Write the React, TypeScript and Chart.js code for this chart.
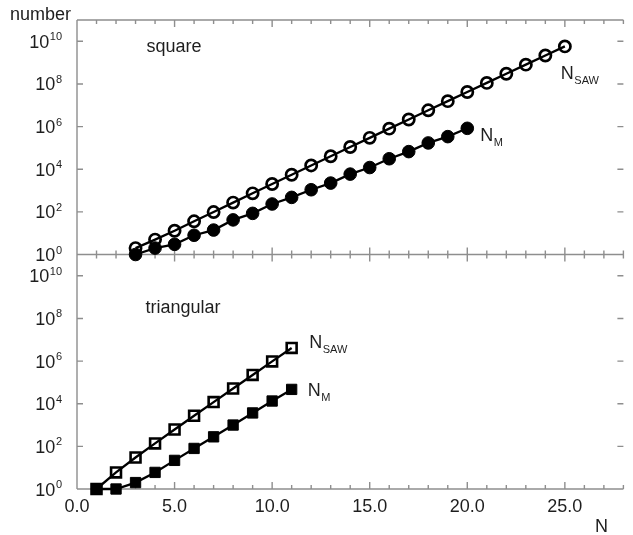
import React, { useEffect, useRef } from "react";
import { Chart, registerables } from "chart.js";

Chart.register(...registerables);

// ---------- data ----------
const xMajorTicks = [0, 5, 10, 15, 20, 25];
const xMin = 0;
const xMax = 28;
const yExponents = [0, 2, 4, 6, 8, 10];
const yMin = 1;
const yMax = 1e11;

// square lattice
const squareSawN = [3, 4, 5, 6, 7, 8, 9, 10, 11, 12, 13, 14, 15, 16, 17, 18, 19, 20, 21, 22, 23, 24, 25];
const squareSaw = [
  2, 5, 13, 36, 98, 272, 740, 2034, 5513, 15037, 40617, 110188, 296806, 802075, 2155667, 5808335,
  15582342, 41889578, 112212146, 301100754, 805570061, 2158326727, 5768299665,
];
const squareMN = [3, 4, 5, 6, 7, 8, 9, 10, 11, 12, 13, 14, 15, 16, 17, 18, 19, 20];
const squareM = [1, 2, 3, 8, 14, 42, 85, 234, 478, 1090, 2240, 5900, 12000, 31000, 67000, 171000, 338000, 830000];

// triangular lattice
const triSawN = [1, 2, 3, 4, 5, 6, 7, 8, 9, 10, 11];
const triSaw = [1, 6, 30, 138, 618, 2730, 11946, 51882, 224130, 964134, 4133166];
const triMN = [1, 2, 3, 4, 5, 6, 7, 8, 9, 10, 11];
const triM = [1, 1, 2, 6, 22, 80, 280, 1000, 3700, 13400, 47000];

const panelTitles = ["square", "triangular"];
const yAxisTitle = "number";
const xAxisTitle = "N";

// ---------- style ----------
const FONT = '"Liberation Sans", Arial, Helvetica, sans-serif';
const TEXT = "#1e1e1e";
const AXIS = "#8e8e8e";

const pts = (xs: number[], ys: number[]) => xs.map((x, i) => ({ x, y: ys[i] }));

function drawLabelWithSub(ctx: CanvasRenderingContext2D, main: string, sub: string, x: number, baseline: number) {
  ctx.font = `18px ${FONT}`;
  ctx.textAlign = "left";
  ctx.textBaseline = "alphabetic";
  ctx.fillText(main, x, baseline);
  const w = ctx.measureText(main).width;
  ctx.font = `11px ${FONT}`;
  ctx.fillText(sub, x + w + 0.5, baseline + 5);
}

const framePlugin = {
  id: "frame",
  beforeDatasetsDraw(chart: any) {
    const { ctx, chartArea: a, scales } = chart;
    const xs = scales.x;
    const yt = scales.yTop;
    const yb = scales.yBot;
    const mid = yt.bottom;
    ctx.save();
    ctx.strokeStyle = AXIS;
    ctx.lineWidth = 1.4;
    ctx.beginPath();
    ctx.moveTo(a.left, a.top);
    ctx.lineTo(a.right, a.top);
    ctx.moveTo(a.left, mid);
    ctx.lineTo(a.right, mid);
    ctx.moveTo(a.left, a.bottom);
    ctx.lineTo(a.right, a.bottom);
    ctx.moveTo(a.left, a.top);
    ctx.lineTo(a.left, a.bottom);
    // x ticks
    for (let v = xMin; v <= xMax; v++) {
      const px = xs.getPixelForValue(v);
      const len = xMajorTicks.includes(v) ? 7 : 4;
      ctx.moveTo(px, a.top);
      ctx.lineTo(px, a.top + len);
      ctx.moveTo(px, mid - len);
      ctx.lineTo(px, mid + len);
      ctx.moveTo(px, a.bottom - len);
      ctx.lineTo(px, a.bottom);
    }
    // y ticks
    for (const s of [yt, yb]) {
      for (const e of yExponents) {
        const py = s.getPixelForValue(Math.pow(10, e));
        ctx.moveTo(a.left, py);
        ctx.lineTo(a.left + 6, py);
        ctx.moveTo(a.right - 6, py);
        ctx.lineTo(a.right, py);
      }
    }
    ctx.stroke();
    ctx.restore();
  },
  afterDraw(chart: any) {
    const { ctx, chartArea: a, scales } = chart;
    const xs = scales.x;
    const yt = scales.yTop;
    const yb = scales.yBot;
    const mid = yt.bottom;
    ctx.save();
    ctx.fillStyle = TEXT;
    ctx.textBaseline = "alphabetic";

    // y tick labels 10^e
    const labelRight = a.left - 15;
    for (const s of [yt, yb]) {
      for (const e of yExponents) {
        const py = s.getPixelForValue(Math.pow(10, e));
        ctx.font = `11px ${FONT}`;
        const es = String(e);
        const ew = ctx.measureText(es).width;
        ctx.textAlign = "left";
        ctx.fillText(es, labelRight - ew, py - 1);
        ctx.font = `18px ${FONT}`;
        ctx.textAlign = "right";
        ctx.fillText("10", labelRight - ew - 0.5, py + 6.5);
      }
    }

    // x tick labels
    ctx.font = `18px ${FONT}`;
    ctx.textAlign = "center";
    for (const v of xMajorTicks) {
      ctx.fillText(v.toFixed(1), xs.getPixelForValue(v), a.bottom + 22.5);
    }

    // axis titles
    ctx.textAlign = "center";
    ctx.fillText(xAxisTitle, a.right - 22, a.bottom + 42.5);
    ctx.textAlign = "left";
    ctx.fillText(yAxisTitle, a.left - 67, a.top);

    // panel titles
    ctx.textAlign = "center";
    ctx.fillText(panelTitles[0], a.left + 97, a.top + 32);
    ctx.fillText(panelTitles[1], a.left + 106, mid + 58);

    // series labels
    const lastPx = (xsArr: number[], ysArr: number[], s: any) => {
      const i = xsArr.length - 1;
      return { x: xs.getPixelForValue(xsArr[i]), y: s.getPixelForValue(ysArr[i]) };
    };
    let p = lastPx(squareSawN, squareSaw, yt);
    drawLabelWithSub(ctx, "N", "SAW", p.x - 4, p.y + 32.5);
    p = lastPx(squareMN, squareM, yt);
    drawLabelWithSub(ctx, "N", "M", p.x + 13, p.y + 12.7);
    p = lastPx(triSawN, triSaw, yb);
    drawLabelWithSub(ctx, "N", "SAW", p.x + 17.5, p.y + 0.5);
    p = lastPx(triMN, triM, yb);
    drawLabelWithSub(ctx, "N", "M", p.x + 16, p.y + 7);

    ctx.restore();
  },
};

const hiddenAxisParts = {
  ticks: { display: false },
  grid: { display: false, drawTicks: false },
  border: { display: false },
};

export default function App() {
  const ref = useRef<HTMLCanvasElement | null>(null);

  useEffect(() => {
    if (!ref.current) return;
    const base = {
      borderColor: "#000",
      borderWidth: 2.3,
      tension: 0,
      clip: false as const,
      pointBorderColor: "#000",
    };
    const chart = new Chart(ref.current, {
      type: "line",
      data: {
        datasets: [
          {
            ...base,
            label: "square N_SAW",
            data: pts(squareSawN, squareSaw),
            yAxisID: "yTop",
            pointStyle: "circle",
            pointRadius: 5.6,
            pointBorderWidth: 2.7,
            pointBackgroundColor: "rgba(0,0,0,0)",
          },
          {
            ...base,
            label: "square N_M",
            data: pts(squareMN, squareM),
            yAxisID: "yTop",
            pointStyle: "circle",
            pointRadius: 6.3,
            pointBorderWidth: 1,
            pointBackgroundColor: "#000",
          },
          {
            ...base,
            label: "triangular N_SAW",
            data: pts(triSawN, triSaw),
            yAxisID: "yBot",
            pointStyle: "rect",
            pointRadius: 7,
            pointBorderWidth: 2.6,
            pointBackgroundColor: "rgba(0,0,0,0)",
          },
          {
            ...base,
            label: "triangular N_M",
            data: pts(triMN, triM),
            yAxisID: "yBot",
            pointStyle: "rect",
            pointRadius: 7.3,
            pointBorderWidth: 1,
            pointBackgroundColor: "#000",
          },
        ],
      },
      options: {
        responsive: false,
        animation: false,
        events: [],
        layout: { padding: { left: 77, top: 20, right: 0, bottom: 46 } },
        plugins: { legend: { display: false }, tooltip: { enabled: false } },
        scales: {
          x: {
            type: "linear",
            min: xMin,
            max: xMax,
            ...hiddenAxisParts,
          },
          yBot: {
            type: "logarithmic",
            position: "left",
            stack: "panels",
            stackWeight: 1,
            min: yMin,
            max: yMax,
            ...hiddenAxisParts,
          },
          yTop: {
            type: "logarithmic",
            position: "left",
            stack: "panels",
            stackWeight: 1,
            min: yMin,
            max: yMax,
            ...hiddenAxisParts,
          },
        },
      },
      plugins: [framePlugin],
    });
    return () => chart.destroy();
  }, []);

  return (
    <div style={{ position: "absolute", left: 0, top: 0, width: 633, height: 535, background: "#fff" }}>
      <canvas ref={ref} width={633} height={535} style={{ display: "block" }} />
    </div>
  );
}
